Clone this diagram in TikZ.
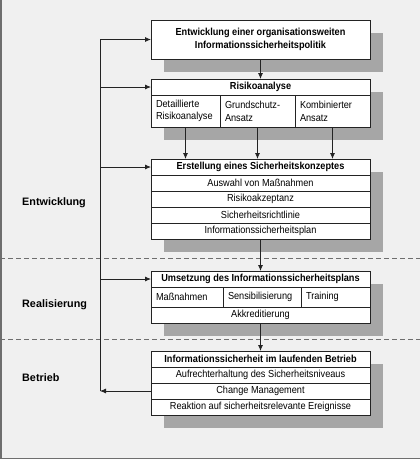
\documentclass[tikz,border=0pt]{standalone}
\usepackage{fontspec}
\setmainfont{Liberation Sans}
\newfontfamily\boxfont{Liberation Sans}[FakeStretch=0.9]
\usetikzlibrary{positioning, arrows.meta, backgrounds}
\definecolor{BgGray}{RGB}{240,240,240}
\definecolor{ShadowGray}{RGB}{166,166,166}
\definecolor{FrameGray}{RGB}{110,110,110}
\definecolor{LineColor}{RGB}{35,35,35}

\begin{document}
\begin{tikzpicture}[x=1pt, y=-1pt,
    cell/.style={draw=LineColor, fill=white, line width=0.9pt, outer sep=0pt, inner sep=0pt,
      minimum width=219pt, minimum height=16pt, font=\boxfont\fontsize{10.2}{12.7}\selectfont},
    head/.style={cell, font=\boxfont\fontsize{10.2}{12.7}\selectfont\bfseries},
    col/.style={cell, minimum width=0pt, inner xsep=5pt, align=left, text width=#1},
    arrow/.style={-{Latex[length=6pt,width=5pt]}, line width=0.8pt, LineColor},
    phase/.style={anchor=west, inner xsep=0pt, font=\fontsize{10.8}{13}\selectfont\bfseries},
    phasesep/.style={dashed, dash pattern=on 5pt off 3pt, line width=0.8pt, FrameGray}
  ]
  \useasboundingbox (0,0) rectangle (420,459);

  % Entwicklung
  \node[head, minimum height=39pt, align=center] (pol) at (260.5,39.5)
    {Entwicklung einer organisationsweiten\\Informationssicherheitspolitik};

  \node[head] (risk) at (260.5,87) {Risikoanalyse};
  \node[col=59pt, minimum height=32pt, below right=0pt and 0pt of risk.south west] (detail)
    {Detaillierte\\Risikoanalyse};
  \node[col=65pt, minimum height=32pt, right=0pt of detail] (grund) {Grundschutz-\\Ansatz};
  \node[col=65pt, minimum height=32pt, right=0pt of grund] (komb) {Kombinierter\\Ansatz};

  \node[head] (konz) at (260.5,167) {Erstellung eines Sicherheitskonzeptes};
  \node[cell, below=0pt of konz] (auswahl) {Auswahl von Maßnahmen};
  \node[cell, below=0pt of auswahl] (akzept) {Risikoakzeptanz};
  \node[cell, below=0pt of akzept] (richtl) {Sicherheitsrichtlinie};
  \node[cell, below=0pt of richtl] (plan) {Informationssicherheitsplan};

  % Realisierung
  \node[head] (umset) at (260.5,279) {Umsetzung des Informationssicherheitsplans};
  \node[col=62pt, minimum height=20pt, below right=0pt and 0pt of umset.south west] (massn) {Maßnahmen};
  \node[col=68pt, minimum height=20pt, right=0pt of massn] (sensib) {Sensibilisierung};
  \node[col=59.3pt, minimum height=20pt, right=0pt of sensib] (train) {Training};
  \node[cell, anchor=north] (akkr) at (massn.south -| umset) {Akkreditierung};

  % Betrieb
  \node[head] (betr) at (260.5,359) {Informationssicherheit im laufenden Betrieb};
  \node[cell, below=0pt of betr] (aufr) {Aufrechterhaltung des Sicherheitsniveaus};
  \node[cell, below=0pt of aufr] (change) {Change Management};
  \node[cell, below=0pt of change] (reakt) {Reaktion auf sicherheitsrelevante Ereignisse};

  % Phasen
  \node[phase] (entw) at (22,203) {Entwicklung};
  \node[phase] (real) at (22,305) {Realisierung};
  \node[phase] (bet) at (22,378) {Betrieb};

  % Pfeile
  \draw[arrow] (pol) -- (risk);
  \draw[arrow] (detail.south) -- (detail.south |- konz.north);
  \draw[arrow] (grund.south) -- (grund.south |- konz.north);
  \draw[arrow] (komb.south) -- (komb.south |- konz.north);
  \draw[arrow] (plan) -- (umset);
  \draw[arrow] (akkr) -- (betr);

  % Rueckkopplung
  \coordinate (spTop) at (100,39.5);
  \coordinate (spBot) at (change.west -| spTop);
  \draw[line width=0.8pt, LineColor] (spTop) -- (spBot);
  \draw[arrow] (change.west) -- (spBot);
  \draw[arrow] (spTop) -- (pol.west);
  \draw[arrow] (risk.west -| spTop) -- (risk.west);
  \draw[arrow] (konz.west -| spTop) -- (konz.west);
  \draw[arrow] (umset.west -| spTop) -- (umset.west);

  \begin{scope}[on background layer]
    \fill[BgGray] (0,0) rectangle (420,459);
    \draw[FrameGray, line width=1.5pt] (0.75,0) -- (0.75,458.25) -- (420,458.25);
    \draw[phasesep] (0,258.5) -- (420,258.5);
    \draw[phasesep] (0,339) -- (420,339);
    \foreach \top/\bot in {pol/pol, risk/komb, konz/plan, umset/akkr, betr/reakt}
      \fill[ShadowGray] ([shift={(13,13)}]\top.north west -| pol.west) rectangle
        ([shift={(13,13)}]\bot.south east -| pol.east);
  \end{scope}
\end{tikzpicture}
\end{document}
